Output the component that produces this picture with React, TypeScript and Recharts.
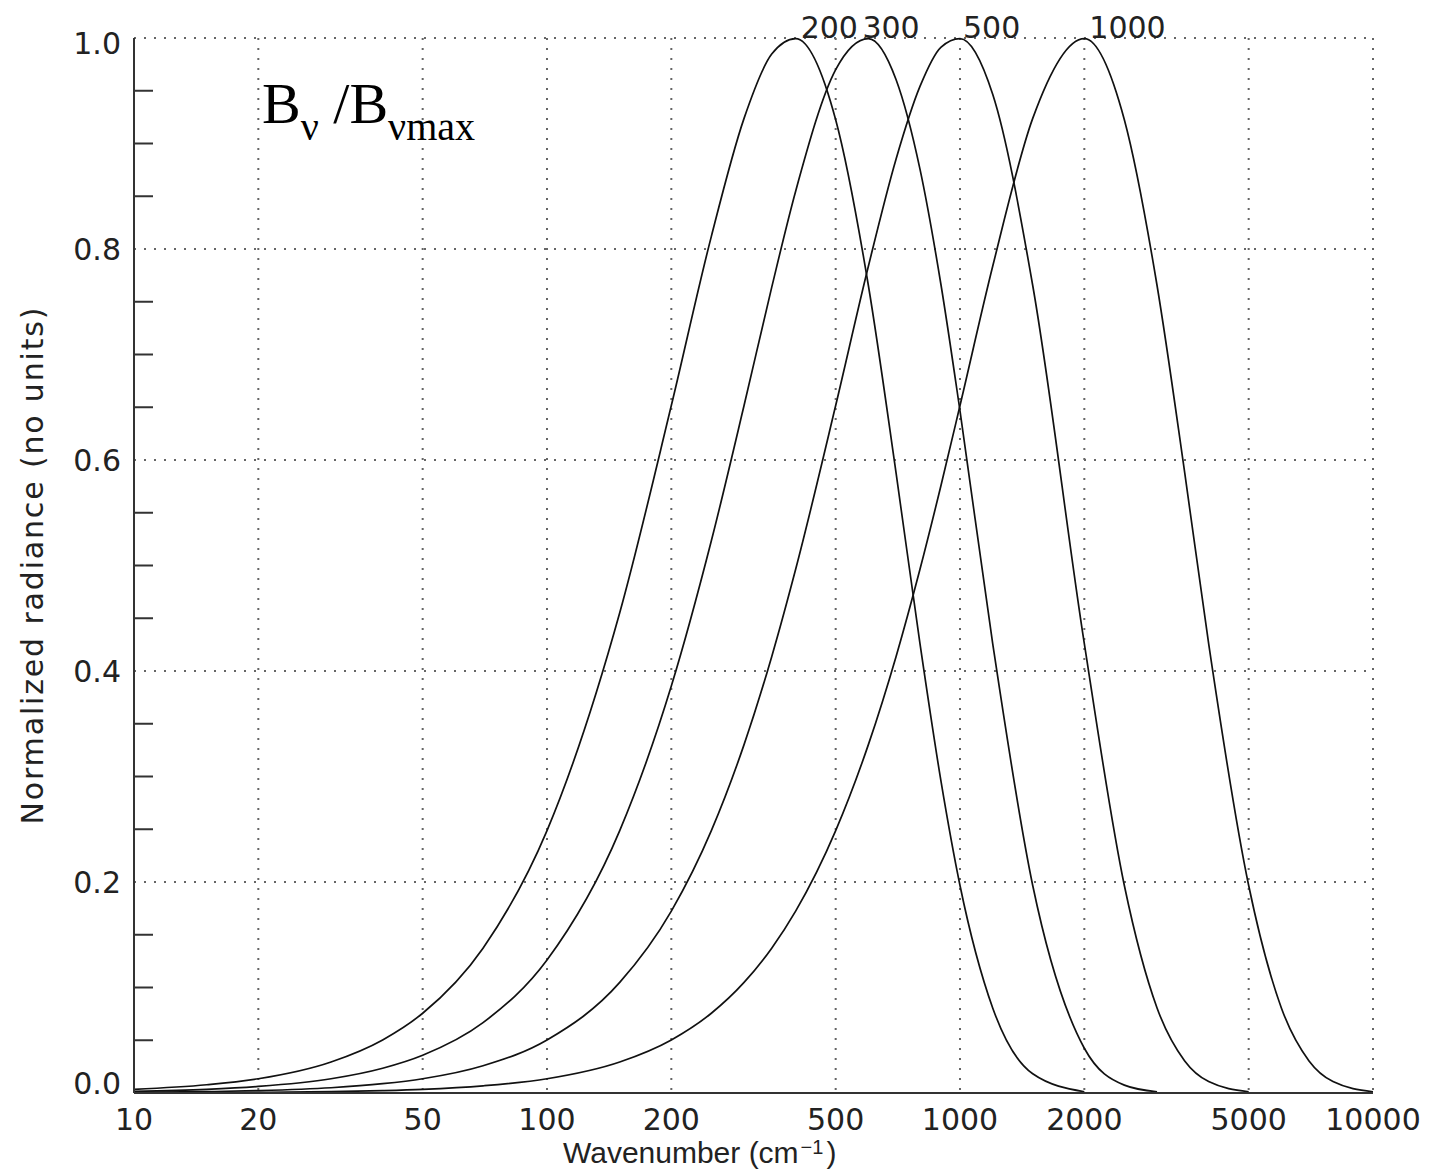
import { LineChart, Line, XAxis, YAxis, CartesianGrid, ReferenceLine } from 'recharts'

// wavenumber grid (cm-1) and normalized radiance
const wavenumbers = [10, 15, 20, 30, 40, 50, 70, 100, 150, 200, 250, 300, 350, 400, 500, 600, 700, 800, 900, 1000, 1200, 1500, 2000, 2500, 3000, 3500, 4000, 5000, 6000, 7000, 8000, 10000]

const t200 = [0.0035, 0.0078, 0.0135, 0.0294, 0.0503, 0.0756, 0.1373, 0.2487, 0.4552, 0.6516, 0.812, 0.9238, 0.9848, 0.9995, 0.9226, 0.7654, 0.588, 0.4259, 0.2949, 0.1967, 0.0806, 0.0182, 0.0012, null, null, null, null, null, null, null, null, null]
const t300 = [0.0016, 0.0035, 0.0062, 0.0135, 0.0235, 0.0358, 0.0667, 0.1261, 0.2487, 0.3857, 0.5234, 0.6516, 0.7636, 0.8548, 0.97, 0.9995, 0.9607, 0.8757, 0.7654, 0.6466, 0.4259, 0.1967, 0.0424, 0.0075, 0.0012, null, null, null, null, null, null, null]
const t500 = [0.0006, 0.0013, 0.0023, 0.005, 0.0088, 0.0135, 0.0258, 0.0503, 0.1048, 0.1724, 0.2487, 0.3302, 0.4136, 0.4964, 0.6516, 0.7836, 0.8851, 0.9541, 0.9914, 0.9995, 0.9467, 0.7654, 0.4259, 0.1967, 0.0806, 0.0304, 0.0108, 0.0012, null, null, null, null]
const t1000 = [0.0001, 0.0003, 0.0006, 0.0013, 0.0023, 0.0035, 0.0068, 0.0135, 0.0294, 0.0503, 0.0756, 0.1048, 0.1373, 0.1724, 0.2487, 0.3302, 0.4136, 0.4964, 0.5763, 0.6516, 0.7836, 0.9238, 0.9995, 0.9226, 0.7654, 0.588, 0.4259, 0.1967, 0.0806, 0.0304, 0.0108, 0.0012]

const temperatures = ['200', '300', '500', '1000']
const xTicks = [10, 20, 50, 100, 200, 500, 1000, 2000, 5000, 10000]
const yTicks = [0, 0.2, 0.4, 0.6, 0.8, 1.0]
const yMinorTicks = [0.05, 0.1, 0.15, 0.25, 0.3, 0.35, 0.45, 0.5, 0.55, 0.65, 0.7, 0.75, 0.85, 0.9, 0.95]
const yAllTicks = [...yTicks, ...yMinorTicks].sort((a, b) => a - b)

const data = wavenumbers.map((nu, i) => ({
  nu,
  t200: t200[i],
  t300: t300[i],
  t500: t500[i],
  t1000: t1000[i],
}))

const series = [
  { key: 't200', values: t200, dx: 5 },
  { key: 't300', values: t300, dx: -6 },
  { key: 't500', values: t500, dx: 3 },
  { key: 't1000', values: t1000, dx: 5 },
]

const tickFont = 'DejaVu Sans'
const ink = '#222'
const gap = 13

// labels on the 0.2 steps, short inward ticks on the 0.05 steps
function YTick({ x, y, payload }: any) {
  const v = payload.value
  if (!yTicks.includes(v)) {
    return <line x1={x + gap} x2={x + gap + 19} y1={y} y2={y} stroke="#333" strokeWidth={2} />
  }
  let dy = 11
  if (v >= 1) dy = 16
  if (v <= 0) dy = 1
  return (
    <text x={x} y={y + dy} textAnchor="end" fontFamily={tickFont} fontSize={30} fill={ink}>
      {v.toFixed(1)}
    </text>
  )
}

function XTick({ x, y, payload }: any) {
  return (
    <text x={x} y={y + 37} textAnchor="middle" fontFamily={tickFont} fontSize={30} fill={ink}>
      {payload.value}
    </text>
  )
}

function peakLabel(name: string, values: (number | null)[], dx: number) {
  let peak = 0
  values.forEach((v, i) => {
    if (v != null && v > (values[peak] ?? -1)) peak = i
  })
  return (props: any) => {
    if (props.index !== peak) return <g />
    return (
      <text x={props.x + dx} y={props.y - 1} fontFamily={tickFont} fontSize={30} fill={ink}>
        {name}
      </text>
    )
  }
}

export default function App() {
  return (
    <div style={{ position: 'absolute', left: 0, top: 0, width: 1430, height: 1172, background: '#fff' }}>
      <LineChart
        width={1430}
        height={1172}
        data={data}
        margin={{ top: 38, right: 57, bottom: 19, left: 74 }}
      >
        <CartesianGrid horizontal={false} stroke="#666" strokeWidth={2} strokeDasharray="2 8" />
        {yTicks.slice(1).map((v) => (
          <ReferenceLine key={v} y={v} stroke="#666" strokeWidth={2} strokeDasharray="2 8" />
        ))}
        <XAxis
          dataKey="nu"
          type="number"
          scale="log"
          domain={[10, 10000]}
          allowDataOverflow
          ticks={xTicks}
          interval={0}
          height={60}
          tickLine={false}
          tickSize={0}
          tickMargin={0}
          axisLine={{ stroke: '#333', strokeWidth: 2 }}
          tick={<XTick />}
        />
        <YAxis
          type="number"
          domain={[0, 1]}
          ticks={yAllTicks}
          interval={0}
          width={60}
          tickLine={false}
          tickSize={0}
          tickMargin={gap}
          axisLine={{ stroke: '#333', strokeWidth: 2 }}
          tick={<YTick />}
        />
        {series.map((s, i) => (
          <Line
            key={s.key}
            dataKey={s.key}
            type="monotone"
            stroke="#111"
            strokeWidth={1.7}
            dot={false}
            isAnimationActive={false}
            label={peakLabel(temperatures[i], s.values, s.dx)}
          />
        ))}
      </LineChart>
      <svg
        width={1430}
        height={1172}
        style={{ position: 'absolute', left: 0, top: 0, pointerEvents: 'none' }}
      >
        <text
          x={43}
          y={566}
          transform="rotate(-90 43 566)"
          textAnchor="middle"
          textLength={517}
          lengthAdjust="spacing"
          fontFamily={tickFont}
          fontSize={30}
          fill={ink}
        >
          Normalized radiance (no units)
        </text>
        <text x={563} y={1163} fontFamily="Liberation Sans" fontSize={30} fill={ink}>
          Wavenumber (cm
          <tspan fontSize={20} dx={2} dy={-9}>−1</tspan>
          <tspan dx={3} dy={9}>)</tspan>
        </text>
        <text x={262} y={123} fontFamily="Liberation Serif" fontSize={58} fill="#000">
          B<tspan fontSize={40} dy={17}>ν</tspan>
          <tspan fontSize={58} dy={-17}> /B</tspan>
          <tspan fontSize={40} dy={17}>νmax</tspan>
        </text>
      </svg>
    </div>
  )
}
